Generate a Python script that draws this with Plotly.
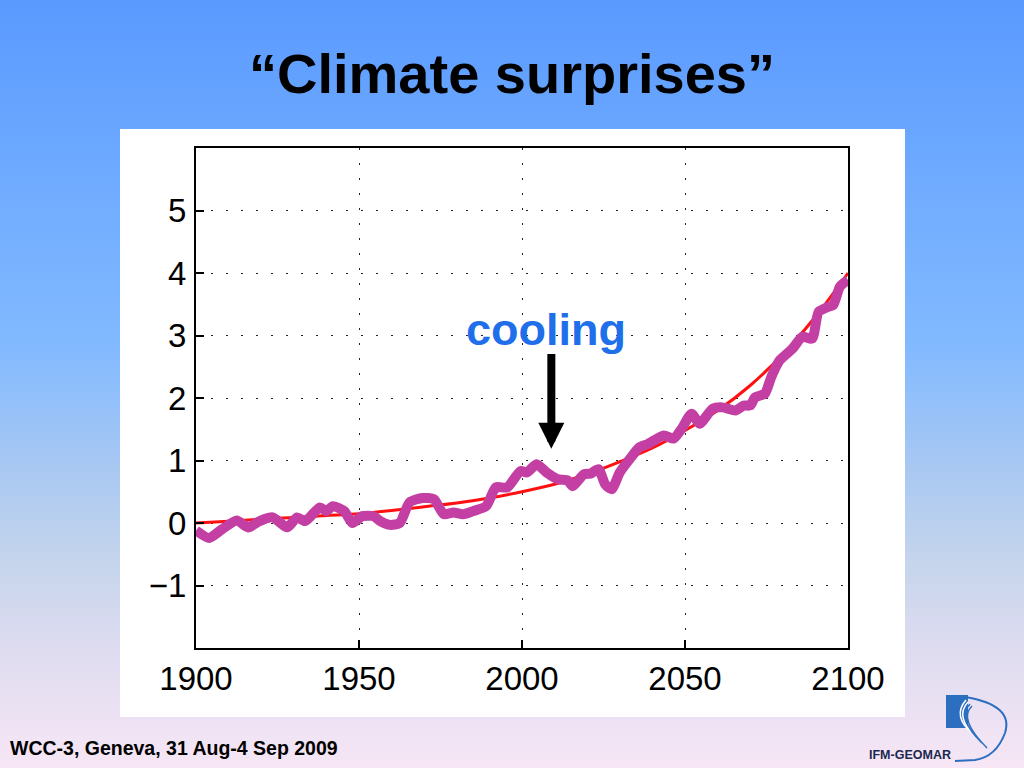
import plotly.graph_objects as go

# purple line: model temperature anomaly
years = [1900, 1904, 1908, 1912.5, 1916, 1919.5, 1923.5, 1928, 1931, 1933.5,
         1938, 1940, 1942, 1945.5, 1948, 1951, 1954.5, 1956.5, 1959.5, 1962.5,
         1965.5, 1969.5, 1973, 1976, 1979, 1982, 1985, 1989, 1992, 1995.5,
         1999.5, 2001.5, 2004.5, 2007.5, 2011, 2014, 2015.5, 2019, 2021, 2023.5,
         2025.5, 2027.5, 2030, 2033, 2036, 2038.5, 2043.5, 2046.5, 2049, 2052,
         2054.5, 2058.5, 2061.5, 2065.5, 2068, 2070, 2071.5, 2074.5, 2076.5, 2079,
         2083, 2086, 2089, 2091, 2094, 2095.5, 2097.5, 2100]
anomaly = [-0.12, -0.24, -0.1, 0.04, -0.07, 0.03, 0.09, -0.07, 0.09, 0.03,
           0.25, 0.19, 0.27, 0.19, 0.0, 0.11, 0.11, 0.03, -0.03, 0.0,
           0.33, 0.4, 0.38, 0.14, 0.17, 0.14, 0.19, 0.27, 0.57, 0.57,
           0.83, 0.81, 0.94, 0.81, 0.7, 0.68, 0.59, 0.78, 0.79, 0.86,
           0.62, 0.54, 0.81, 1.02, 1.21, 1.26, 1.4, 1.35, 1.51, 1.75,
           1.59, 1.83, 1.85, 1.8, 1.88, 1.88, 2.01, 2.07, 2.34, 2.6,
           2.79, 2.98, 2.95, 3.38, 3.46, 3.49, 3.78, 3.89]

# red line: smooth trend
trend_years = [1900, 1910, 1920, 1930, 1940, 1950, 1960, 1970, 1980, 1990, 2000,
               2010, 2020, 2030, 2040, 2050, 2060, 2070, 2080, 2090, 2100]
trend = [0.0, 0.03, 0.06, 0.09, 0.12, 0.15, 0.2, 0.26, 0.32, 0.4, 0.5,
         0.62, 0.78, 0.98, 1.2, 1.48, 1.8, 2.2, 2.7, 3.3, 4.0]

x_ticks = [1900, 1950, 2000, 2050, 2100]
y_ticks = [-1, 0, 1, 2, 3, 4, 5]

# plot area in pixels (1024x768 slide)
L, R, T, B = 196, 848, 148, 648


def px(x):
    return (x - L) / (R - L)


def py(y):
    return (B - y) / (B - T)


fig = go.Figure()
fig.add_trace(go.Scatter(x=trend_years, y=trend, mode="lines",
                         line=dict(color="#ff1010", width=3, shape="spline"),
                         hoverinfo="skip"))
fig.add_trace(go.Scatter(x=years, y=anomaly, mode="lines",
                         line=dict(color="#c43fa3", width=10, shape="spline", smoothing=0.6),
                         hoverinfo="skip"))

shapes = []
# slide background gradient, blue at the top to pale pink at the bottom
stops = [(0.0, (90, 154, 255)), (0.45, (130, 186, 255)), (0.6, (166, 199, 243)),
         (0.72, (195, 212, 236)), (0.85, (223, 220, 240)), (1.0, (247, 230, 246))]
n_bands = 96
for i in range(n_bands):
    f = (i + 0.5) / n_bands
    for j in range(len(stops) - 1):
        if stops[j][0] <= f <= stops[j + 1][0]:
            a, ca = stops[j]
            b, cb = stops[j + 1]
            t = (f - a) / (b - a)
            c = tuple(round(ca[k] + (cb[k] - ca[k]) * t) for k in range(3))
            break
    y0 = 768 * i / n_bands
    y1 = 768 * (i + 1) / n_bands + 1
    shapes.append(dict(type="rect", xref="paper", yref="paper", layer="below",
                       x0=px(0), x1=px(1024), y0=py(y0), y1=py(y1),
                       fillcolor="rgb(%d,%d,%d)" % c, line_width=0))

# white panel behind the chart
shapes.append(dict(type="rect", xref="paper", yref="paper", layer="below",
                   x0=px(120), x1=px(905), y0=py(129), y1=py(717),
                   fillcolor="white", line_width=0))

# IFM-GEOMAR logo
logo_blue = "#2c6fc0"
shapes.append(dict(type="rect", xref="paper", yref="paper", layer="above",
                   x0=px(946), x1=px(968), y0=py(695), y1=py(728),
                   fillcolor=logo_blue, line_width=0))
shapes.append(dict(type="path", xref="paper", yref="paper", layer="above",
                   path="M %f,%f Q %f,%f %f,%f Q %f,%f %f,%f L %f,%f" % (
                       px(965), py(697), px(1014), py(705), px(1005), py(733),
                       px(996), py(757), px(975), py(760), px(955), py(761)),
                   line=dict(color=logo_blue, width=2)))
for k in range(4):
    shapes.append(dict(type="path", xref="paper", yref="paper", layer="above",
                       path="M %f,%f Q %f,%f %f,%f" % (
                           px(966 + k * 2), py(700 + k * 2), px(952 + k * 2), py(716 + k),
                           px(972 + k * 5), py(733 + k * 5)),
                       line=dict(color="white" if k < 2 else logo_blue, width=1.5)))

annotations = [
    dict(text="\u201cClimate surprises\u201d", xref="paper", yref="paper",
         x=px(512), y=py(73), xanchor="center", yanchor="middle", showarrow=False,
         font=dict(family="Liberation Sans", size=56, color="black", weight="bold")),
    dict(text="cooling", x=2007.4, y=3.09, xanchor="center", yanchor="middle",
         showarrow=False,
         font=dict(family="Liberation Sans", size=45, color="#1f6fea", weight="bold")),
    dict(text="", x=2009, y=1.19, ax=2009, ay=2.73, axref="x", ayref="y",
         showarrow=True, arrowhead=2, arrowwidth=8, arrowsize=0.65, arrowcolor="black"),
    dict(text="WCC-3, Geneva, 31 Aug-4 Sep 2009", xref="paper", yref="paper",
         x=px(8), y=py(748), xanchor="left", yanchor="middle", showarrow=False,
         font=dict(family="Liberation Sans", size=19.5, color="black", weight="bold")),
    dict(text="IFM-GEOMAR", xref="paper", yref="paper",
         x=px(953), y=py(755), xanchor="right", yanchor="middle", showarrow=False,
         font=dict(family="Liberation Sans", size=12.5, color="#1a2850", weight="bold")),
]

axis_common = dict(
    showline=True, linecolor="black", linewidth=2, mirror=True,
    ticks="inside", ticklen=8, tickwidth=2, tickcolor="black",
    showgrid=True, gridcolor="#222222", gridwidth=1.2, griddash="2px,13px",
    zeroline=False,
    tickfont=dict(family="Liberation Sans", size=33, color="black"),
)

fig.update_layout(
    width=1024, height=768,
    margin=dict(l=L, r=1024 - R, t=T, b=768 - B, autoexpand=False),
    paper_bgcolor="white", plot_bgcolor="white",
    showlegend=False,
    xaxis=dict(range=[1900, 2100], tickvals=x_ticks, ticklabelstandoff=0, **axis_common),
    yaxis=dict(range=[-2, 6], tickvals=y_ticks, ticktext=[str(v).replace("-", "\u2212") for v in y_ticks],
               ticklabelstandoff=1, **axis_common),
    shapes=shapes,
    annotations=annotations,
)

# drop the page margin so the slide fills the window
fig.write_html("out.html", config={"displayModeBar": False},
               post_script="document.body.style.margin='0';")
